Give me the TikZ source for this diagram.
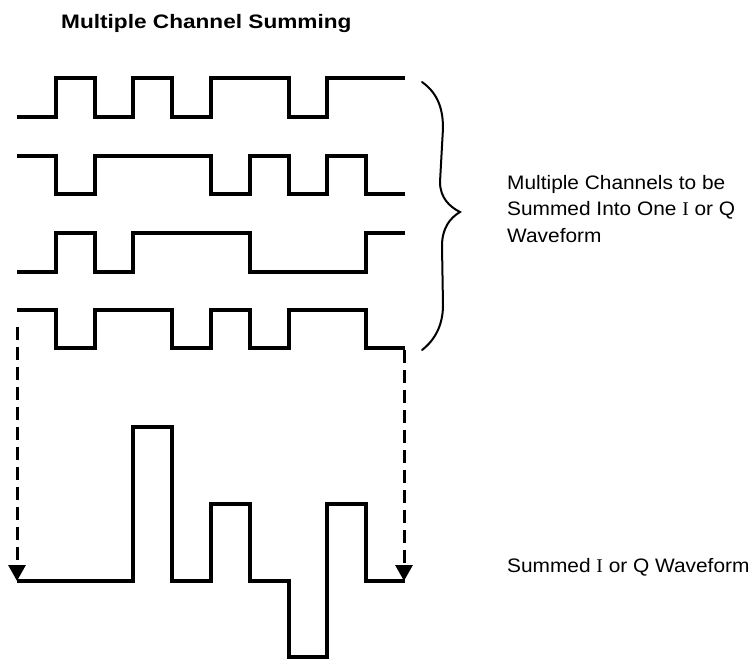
\documentclass[tikz,border=0pt]{standalone}
\usepackage{fontspec}
\setmainfont{Liberation Sans}
\newfontfamily\bodyfont[FakeStretch=1.07]{Liberation Sans}
\newfontfamily\titlefont[FakeStretch=1.16]{Liberation Sans}
\newfontfamily\serifI{Liberation Serif}
\usetikzlibrary{arrows.meta}
\begin{document}
\begin{tikzpicture}[x=1pt,y=-1pt,
  wave/.style={line width=4.5pt, line join=miter},
  brace/.style={line width=2pt, line cap=round},
  dasharrow/.style={line width=3pt, dash pattern=on 13pt off 7pt, -{Triangle[width=17pt,length=16pt]}},
  body/.style={anchor=base west, inner sep=0pt, font=\bodyfont\fontsize{19.5}{24}\selectfont},
  titletext/.style={anchor=base west, inner sep=0pt, font=\titlefont\bfseries\fontsize{19.5}{24}\selectfont}
]
\useasboundingbox (0,0) rectangle (753,659);

% title
\node[titletext] (title) at (61,28) {Multiple Channel Summing};

% channel waveforms
\draw[wave] (17,117) -- (56,117) -- (56,78) -- (95,78) -- (95,117) -- (133,117) -- (133,78) -- (172,78) -- (172,117) -- (211,117) -- (211,78) -- (289,78) -- (289,117) -- (327,117) -- (327,78) -- (405,78);
\draw[wave] (17,156) -- (56,156) -- (56,194) -- (95,194) -- (95,156) -- (211,156) -- (211,194) -- (250,194) -- (250,156) -- (289,156) -- (289,194) -- (327,194) -- (327,156) -- (366,156) -- (366,194) -- (405,194);
\draw[wave] (17,272) -- (56,272) -- (56,233) -- (95,233) -- (95,272) -- (133,272) -- (133,233) -- (250,233) -- (250,272) -- (366,272) -- (366,233) -- (405,233);
\draw[wave] (17,310) -- (56,310) -- (56,348) -- (95,348) -- (95,310) -- (172,310) -- (172,348) -- (211,348) -- (211,310) -- (250,310) -- (250,348) -- (289,348) -- (289,310) -- (366,310) -- (366,348) -- (405,348);

% summed waveform
\draw[wave] (17,581) -- (133,581) -- (133,427) -- (172,427) -- (172,581) -- (211,581) -- (211,504) -- (250,504) -- (250,581) -- (289,581) -- (289,657) -- (327,657) -- (327,504) -- (366,504) -- (366,581) -- (405,581);

% brace
\draw[brace] (422,82) .. controls (436,92) and (443,106) .. (443,128) -- (440,182) .. controls (440,198) and (450,207) .. (460,212) .. controls (450,218) and (442,228) .. (442,246) -- (443,305) .. controls (443,325) and (435,340) .. (422,350);

% dashed arrows
\coordinate (ls) at (17,327);
\coordinate (le) at (17,581);
\coordinate (rs) at (404,350);
\coordinate (re) at (404,581);
\draw[dasharrow] (ls) -- (le);
\draw[dasharrow] (rs) -- (re);

% labels
\node[body] (c1) at (507,189) {Multiple Channels to be};
\node[body] (c2) at (507,215.5) {Summed Into One {\serifI I} or Q};
\node[body] (c3) at (507,242) {Waveform};
\node[body] (s1) at (507,572) {Summed {\serifI I} or Q Waveform};
\end{tikzpicture}
\end{document}
